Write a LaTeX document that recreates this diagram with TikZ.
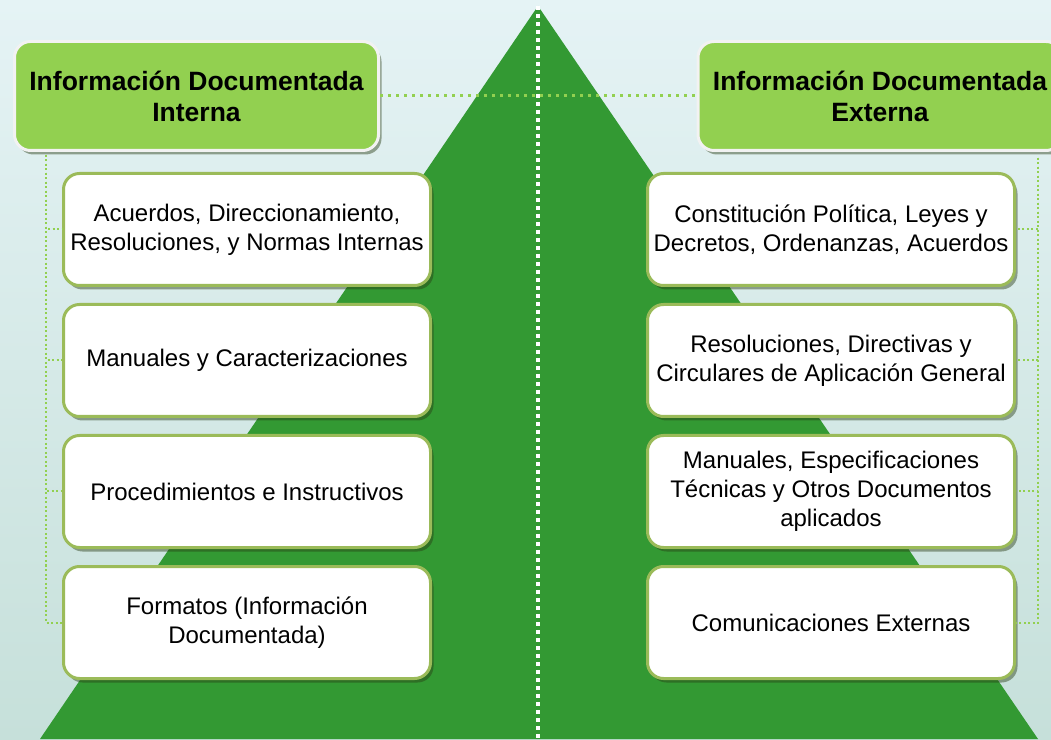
\documentclass[tikz,border=0pt]{standalone}
\usepackage{fontspec}
\setmainfont{Liberation Sans}
\usetikzlibrary{positioning,shadows}

\definecolor{leaf}{HTML}{92D050}
\definecolor{tree}{HTML}{339933}
\definecolor{rim}{HTML}{9BBB59}
\definecolor{skytop}{HTML}{E5F3F5}
\definecolor{skymid}{HTML}{E1F0F1}
\definecolor{skybot}{HTML}{C6E0DA}
\definecolor{dusk}{RGB}{40,60,20}

\begin{document}
\begin{tikzpicture}[
    x=1pt, y=1pt,
    node distance=16pt,
    header/.style={draw=white!95!black, line width=3pt, fill=leaf,
        rounded corners=16pt, minimum width=364pt, minimum height=109pt,
        align=center, font=\fontsize{26.5}{31}\selectfont\bfseries,
        drop shadow={shadow xshift=3pt, shadow yshift=-4pt, fill=dusk, opacity=0.45}},
    item/.style={draw=rim, line width=3pt, fill=white,
        rounded corners=16pt, minimum width=367pt, minimum height=112pt,
        align=center, font=\fontsize{24}{29}\selectfont,
        drop shadow={shadow xshift=3pt, shadow yshift=-4pt, fill=dusk, opacity=0.45}},
    spine/.style={leaf, line width=2pt, dash pattern=on 2pt off 2.5pt},
    link/.style={leaf, line width=3pt, dash pattern=on 3pt off 5pt},
    axisline/.style={white, line width=4pt, dash pattern=on 4pt off 4pt}
]
    \useasboundingbox (0,0) rectangle (1051,739);
    \shade [top color=skytop, middle color=skymid, bottom color=skybot] (0,0) rectangle (1051,739);

    % green pyramid
    \coordinate (apex) at (538,733);
    \coordinate (base) at (538,0);
    \fill [tree] (apex) -- (1038,0) -- (40,0) -- cycle;

    \node [header] (hdrL) at (196.5,643) {Información Documentada\\Interna};
    \node [header] (hdrR) at (880,643) {Información Documentada\\Externa};

    \node [item] (il1) at (247,509.5) {Acuerdos, Direccionamiento,\\Resoluciones, y Normas Internas};
    \node [item,below=of il1] (il2) {Manuales y Caracterizaciones};
    \node [item,below=of il2] (il3) {Procedimientos e Instructivos};
    \node [item,below=of il3] (il4) {Formatos (Información\\Documentada)};

    \node [item] (el1) at (831,509.5) {Constitución Política, Leyes y\\Decretos, Ordenanzas, Acuerdos};
    \node [item,below=of el1] (el2) {Resoluciones, Directivas y\\Circulares de Aplicación General};
    \node [item,below=of el2] (el3) {Manuales, Especificaciones\\Técnicas y Otros Documentos\\aplicados};
    \node [item,below=of el3] (el4) {Comunicaciones Externas};

    \coordinate (spineL) at ([xshift=-16pt]il1.west);
    \coordinate (spineR) at ([xshift=22pt]el1.east);

    \draw [spine] ([yshift=-3pt]hdrL.south -| spineL) |- (il1.west);
    \draw [spine] ([yshift=-3pt]hdrL.south -| spineL) |- (il2.west);
    \draw [spine] ([yshift=-3pt]hdrL.south -| spineL) |- (il3.west);
    \draw [spine] ([yshift=-3pt]hdrL.south -| spineL) |- (il4.west);

    \draw [spine] ([yshift=-6pt]hdrR.south -| spineR) |- (el1.east);
    \draw [spine] ([yshift=-6pt]hdrR.south -| spineR) |- (el2.east);
    \draw [spine] ([yshift=-6pt]hdrR.south -| spineR) |- (el3.east);
    \draw [spine] ([yshift=-6pt]hdrR.south -| spineR) |- (el4.east);

    \draw [link] (hdrL.east) -- (hdrR.west);
    \draw [axisline] (apex) -- (base);
\end{tikzpicture}
\end{document}
